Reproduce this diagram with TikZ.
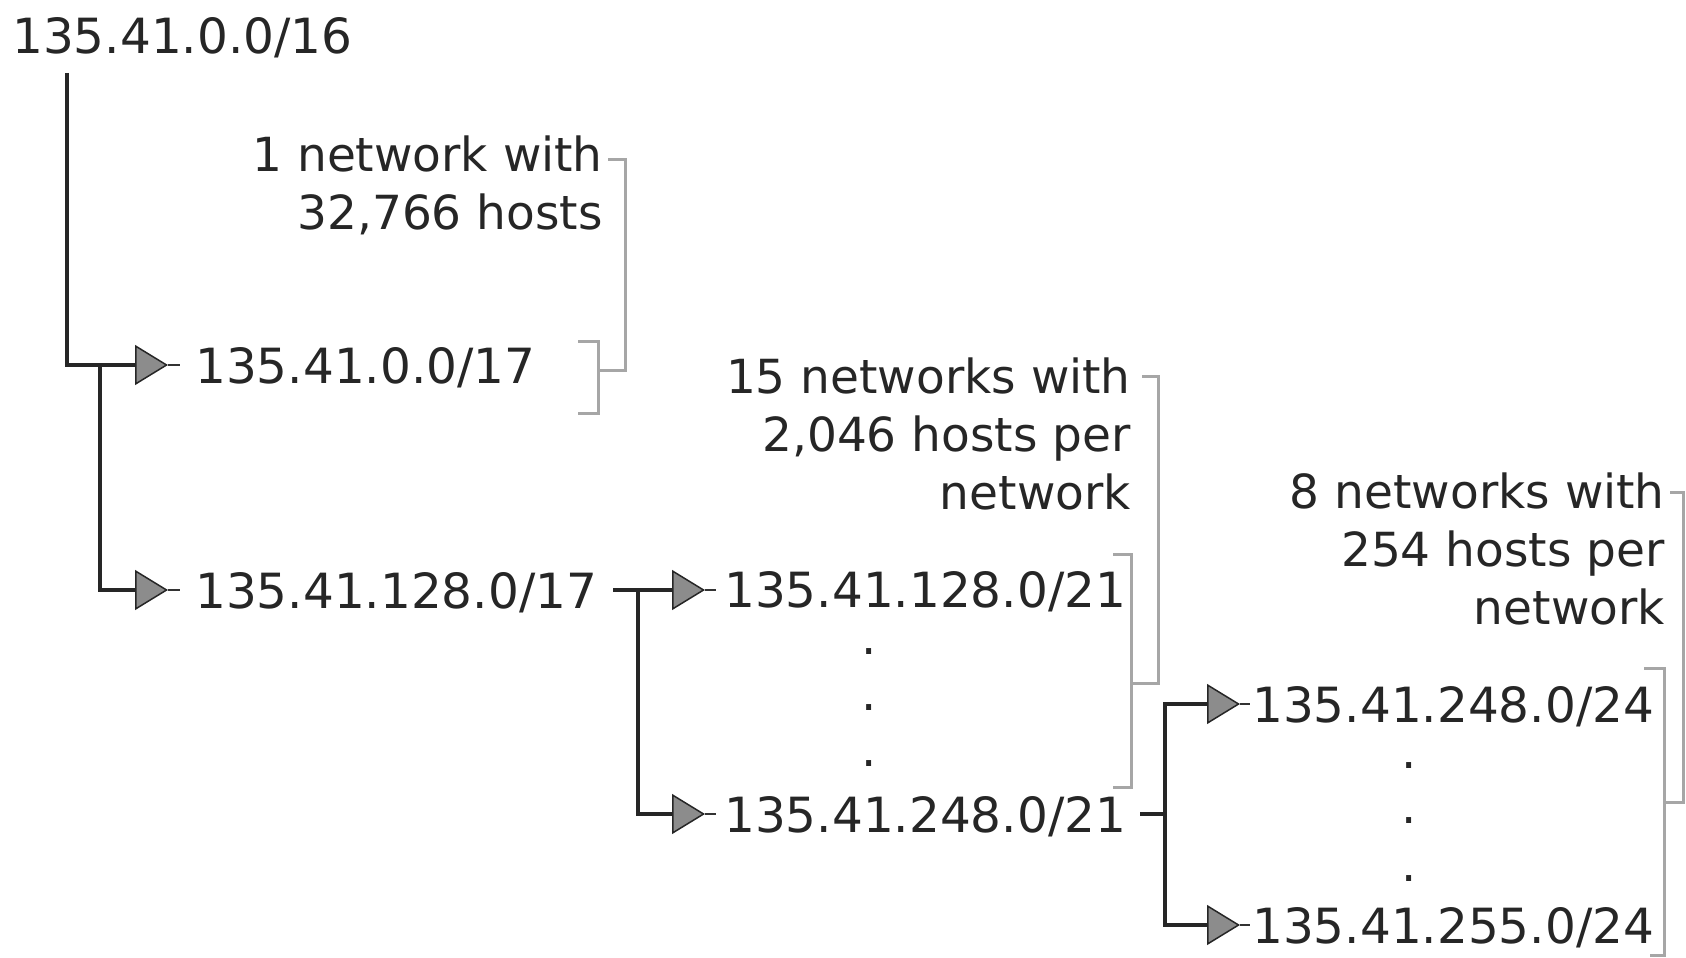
\documentclass[tikz,border=0pt]{standalone}
\usepackage{fontspec}
\setmainfont{DejaVu Sans}
\usetikzlibrary{arrows.meta,calc}
\begin{document}
\begin{tikzpicture}[x=1pt,y=-1pt,
  ip/.style={anchor=base west,inner sep=0pt,font=\fontsize{48.5}{58}\selectfont,text=black!85},
  lbl/.style={anchor=base east,inner sep=0pt,align=right,font=\fontsize{47}{58}\selectfont,text=black!85},
  dotc/.style={anchor=base,inner sep=0pt,font=\fontsize{48}{58}\selectfont,text=black!85},
  wire/.style={line width=4pt,draw=black!85},
  conn/.style={wire,-{Triangle[length=33pt,width=40pt,fill=black!45,line width=1.5pt]}},
  ext/.style={line width=2.5pt,draw=black!80},
  brk/.style={line width=3pt,draw=black!35}]
\useasboundingbox (0,0) rectangle (1686,958);

% address nodes
\node[ip] (n16)  at (12,53)    {135.41.0.0/16};
\node[ip] (n17a) at (195,383)  {135.41.0.0/17};
\node[ip] (n17b) at (195,608)  {135.41.128.0/17};
\node[ip] (n21a) at (724,607)  {135.41.128.0/21};
\node[ip] (n21b) at (724,832)  {135.41.248.0/21};
\node[ip] (n24a) at (1252,722) {135.41.248.0/24};
\node[ip] (n24b) at (1252,943) {135.41.255.0/24};

% vertical ellipses
\node[dotc] (d21a) at (869,654) {.};
\node[dotc] (d21b) at (869,710) {.};
\node[dotc] (d21c) at (869,766) {.};
\node[dotc] (d24a) at (1409,768) {.};
\node[dotc] (d24b) at (1409,823) {.};
\node[dotc] (d24c) at (1409,881) {.};

% annotation labels (anchored at the baseline of their last line)
\node[lbl] (l1) at (603,229)  {1 network with\\32,766 hosts};
\node[lbl] (l2) at (1131,509) {15 networks with\\2,046 hosts per\\network};
\node[lbl] (l3) at (1665,624) {8 networks with\\254 hosts per\\network};

% junction coordinates
\coordinate (r0) at (67,73);
\coordinate (r1) at (100,365);
\coordinate (r2) at (638,590);
\coordinate (r3) at (1165,814);

% level /17
\coordinate (t17a) at ($(n17a.base west)+(-27,-18)$);
\coordinate (e17a) at ($(n17a.base west)+(-15,-18)$);
\coordinate (t17b) at ($(n17b.base west)+(-27,-18)$);
\coordinate (e17b) at ($(n17b.base west)+(-15,-18)$);
\draw[conn] (r0) |- (t17a);
\draw[ext] (t17a) -- (e17a);
\draw[conn] (r1) |- (t17b);
\draw[ext] (t17b) -- (e17b);

% level /21
\coordinate (s17b) at ($(n17b.base east)+(16,-18)$);
\coordinate (t21a) at ($(n21a.base west)+(-19,-17)$);
\coordinate (e21a) at ($(n21a.base west)+(-8,-17)$);
\coordinate (t21b) at ($(n21b.base west)+(-19,-18)$);
\coordinate (e21b) at ($(n21b.base west)+(-8,-18)$);
\draw[conn] (s17b) -- (t21a);
\draw[ext] (t21a) -- (e21a);
\draw[conn] (r2) |- (t21b);
\draw[ext] (t21b) -- (e21b);

% level /24
\coordinate (s21b) at ($(n21b.base east)+(14,-18)$);
\coordinate (t24a) at ($(n24a.base west)+(-12,-18)$);
\coordinate (e24a) at ($(n24a.base west)+(-2,-18)$);
\coordinate (t24b) at ($(n24b.base west)+(-12,-18)$);
\coordinate (e24b) at ($(n24b.base west)+(-2,-18)$);
\draw[wire] (s21b) -- (r3);
\draw[conn] (r3) |- (t24a);
\draw[ext] (t24a) -- (e24a);
\draw[conn] (r3) |- (t24b);
\draw[ext] (t24b) -- (e24b);

% brackets
\coordinate (b1a) at (578,341);
\coordinate (b1b) at (578,413);
\coordinate (b1m) at (598,370);
\coordinate (b1t) at (608,159);
\draw[brk] (b1a) -| (598,413) -- (b1b);
\draw[brk] (b1m) -| (625,159) -- (b1t);

\coordinate (b2a) at (1113,554);
\coordinate (b2b) at (1113,787);
\coordinate (b2m) at (1131,683);
\coordinate (b2t) at (1142,376);
\draw[brk] (b2a) -| (1131,787) -- (b2b);
\draw[brk] (b2m) -| (1158,376) -- (b2t);

\coordinate (b3a) at (1644,668);
\coordinate (b3b) at (1650,955);
\coordinate (b3m) at (1664,802);
\coordinate (b3t) at (1670,492);
\draw[brk] (b3a) -| (1664,955) -- (b3b);
\draw[brk] (b3m) -| (1683,492) -- (b3t);
\end{tikzpicture}
\end{document}
